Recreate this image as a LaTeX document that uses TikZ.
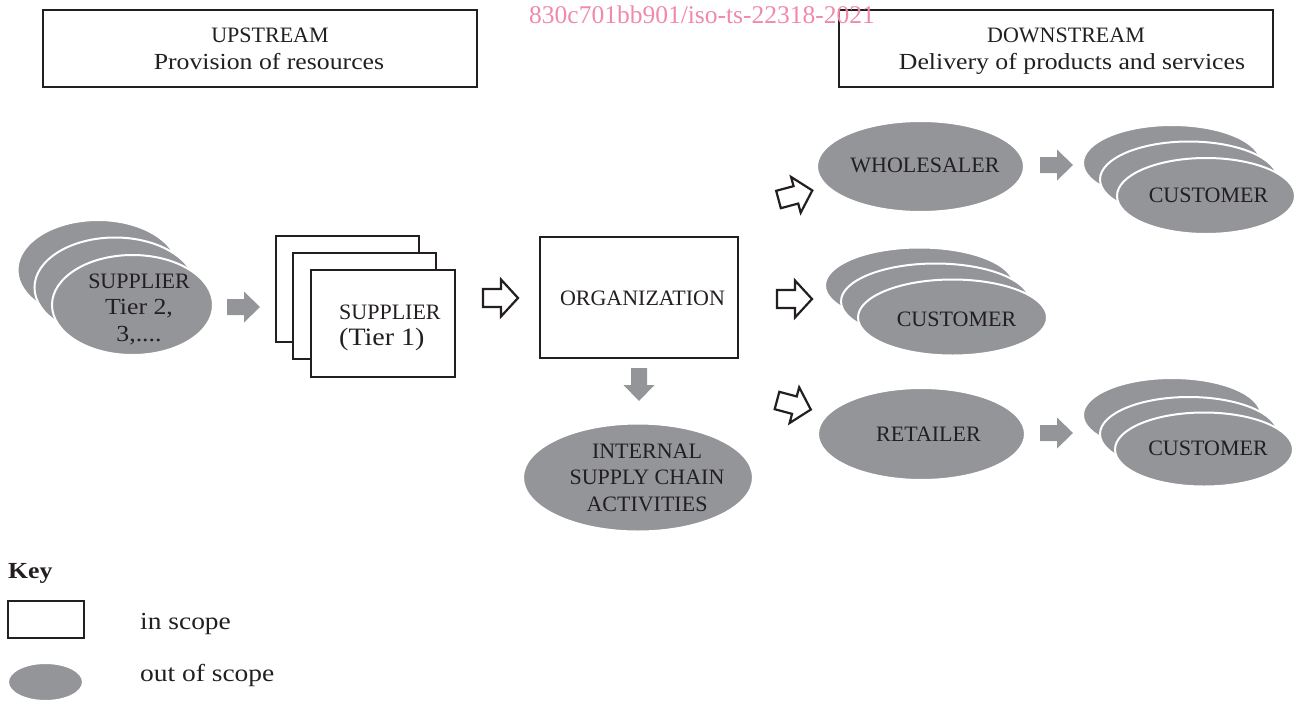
\documentclass[tikz,border=0pt]{standalone}
\usepackage{fontspec}
\setmainfont{Liberation Serif}
\newfontfamily\widefont{Liberation Serif}[FakeStretch=1.12]
\usetikzlibrary{shapes.geometric}
\definecolor{ovalgray}{RGB}{147,149,152}
\definecolor{ink}{RGB}{35,31,32}
\definecolor{stamp}{RGB}{239,138,168}
\tikzset{
  inbox/.style={draw=ink, line width=2pt, fill=white, inner sep=0pt},
  outoval/.style={ellipse, fill=ovalgray, draw=white, line width=2pt, inner sep=0pt},
  caps/.style={text=ink, inner sep=0pt, font=\fontsize{22}{26.5}\selectfont, align=center},
  lower/.style={text=ink, inner sep=0pt, font=\widefont\fontsize{23}{27}\selectfont},
  keytext/.style={text=ink, inner sep=0pt, font=\widefont\fontsize{24.5}{29}\selectfont},
  hollowarrow/.pic={\draw[draw=ink, fill=white, line width=2.2pt, line join=miter]
    (0,-9) -- (18,-9) -- (18,-18.5) -- (35,0) -- (18,18.5) -- (18,9) -- (0,9) -- cycle;},
  grayarrow/.pic={\fill[ovalgray]
    (0,-8) -- (17,-8) -- (17,-15.5) -- (33,0) -- (17,15.5) -- (17,8) -- (0,8) -- cycle;},
}
\begin{document}
\begin{tikzpicture}[x=1pt,y=-1pt]
\useasboundingbox (0,0) rectangle (1299,702);

% header boxes
\node[inbox, minimum width=434, minimum height=77] (up) at (260,48.5) {};
\node[caps, anchor=base] (upa) at (270,42) {UPSTREAM};
\node[lower, anchor=base] (upb) at (269,69) {Provision of resources};
\node[inbox, minimum width=434, minimum height=77] (down) at (1056,48.5) {};
\node[caps, anchor=base] (downa) at (1066,42) {DOWNSTREAM};
\node[lower, anchor=base] (downb) at (1072,69) {Delivery of products and services};

% document stamp
\node[text=stamp, inner sep=0pt, anchor=base west, font=\fontsize{25.5}{30}\selectfont]
  (stamp) at (529,23) {830c701bb901/iso-ts-22318-2021};

% tier 2, 3 suppliers
\node[outoval, minimum width=161, minimum height=100] (s2a) at (98,270) {};
\node[outoval, minimum width=161, minimum height=100] (s2b) at (115,287.5) {};
\node[outoval, minimum width=161, minimum height=100] (s2c) at (132.5,305) {};
\node[caps] (s2t) at (139,309) {SUPPLIER\\{\widefont\fontsize{23}{26.5}\selectfont Tier 2,}\\{\widefont\fontsize{23}{26.5}\selectfont 3,....}};
\pic (g1) at (227,307) {grayarrow};

% tier 1 suppliers
\node[inbox, minimum width=143, minimum height=106] (s1a) at (347.5,289) {};
\node[inbox, minimum width=143, minimum height=106] (s1b) at (364.5,305.5) {};
\node[inbox, minimum width=144, minimum height=107] (s1c) at (383,323.5) {};
\node[caps, anchor=base west] (s1t1) at (339,319) {SUPPLIER};
\node[text=ink, inner sep=0pt, anchor=base west, font=\widefont\fontsize{25}{29}\selectfont] (s1t2) at (339,345) {(Tier 1)};
\pic (h1) at (483,298) {hollowarrow};

% organization
\node[inbox, minimum width=198, minimum height=121] (org) at (639,297.5) {};
\node[caps] (orgt) at (642.5,298) {ORGANIZATION};
\pic[rotate=-90] (g2) at (639,368) {grayarrow};
\node[outoval, minimum width=230, minimum height=108] (isc) at (638,477.5) {};
\node[caps] (isct) at (647,477.5) {INTERNAL\\SUPPLY CHAIN\\ACTIVITIES};

% outgoing flows
\pic[rotate=15] (h2) at (778.5,199.5) {hollowarrow};
\pic (h3) at (777,299) {hollowarrow};
\pic[rotate=-15] (h4) at (777,400.5) {hollowarrow};

% wholesaler branch
\node[outoval, minimum width=207, minimum height=91] (whole) at (920.5,166.5) {};
\node[caps] (wholet) at (925,165.5) {WHOLESALER};
\pic (g3) at (1040,165) {grayarrow};
\node[outoval, minimum width=178, minimum height=76] (c1a) at (1172,163) {};
\node[outoval, minimum width=178, minimum height=76] (c1b) at (1189,179.5) {};
\node[outoval, minimum width=178, minimum height=76] (c1c) at (1206,196) {};
\node[caps] (c1t) at (1208.5,195.5) {CUSTOMER};

% direct customers
\node[outoval, minimum width=189, minimum height=76] (c2a) at (919.5,285.5) {};
\node[outoval, minimum width=189, minimum height=76] (c2b) at (935.5,301.5) {};
\node[outoval, minimum width=189, minimum height=76] (c2c) at (952.5,317.5) {};
\node[caps] (c2t) at (956.5,319) {CUSTOMER};

% retailer branch
\node[outoval, minimum width=207, minimum height=92] (retail) at (921.5,434) {};
\node[caps] (retailt) at (928.5,434) {RETAILER};
\pic (g4) at (1040,433) {grayarrow};
\node[outoval, minimum width=178, minimum height=74] (c3a) at (1172,415) {};
\node[outoval, minimum width=178, minimum height=74] (c3b) at (1189,434) {};
\node[outoval, minimum width=178, minimum height=74] (c3c) at (1204,449.5) {};
\node[caps] (c3t) at (1208,448) {CUSTOMER};

% key
\node[keytext, anchor=base west, font=\widefont\bfseries\fontsize{23}{27}\selectfont] (key) at (8,578) {Key};
\node[inbox, minimum width=76, minimum height=37] (keybox) at (46,619.5) {};
\node[keytext, anchor=base west] (keyin) at (140,629) {in scope};
\node[outoval, minimum width=75, minimum height=38] (keyoval) at (45.5,682) {};
\node[keytext, anchor=base west] (keyout) at (140,681) {out of scope};
\end{tikzpicture}
\end{document}
